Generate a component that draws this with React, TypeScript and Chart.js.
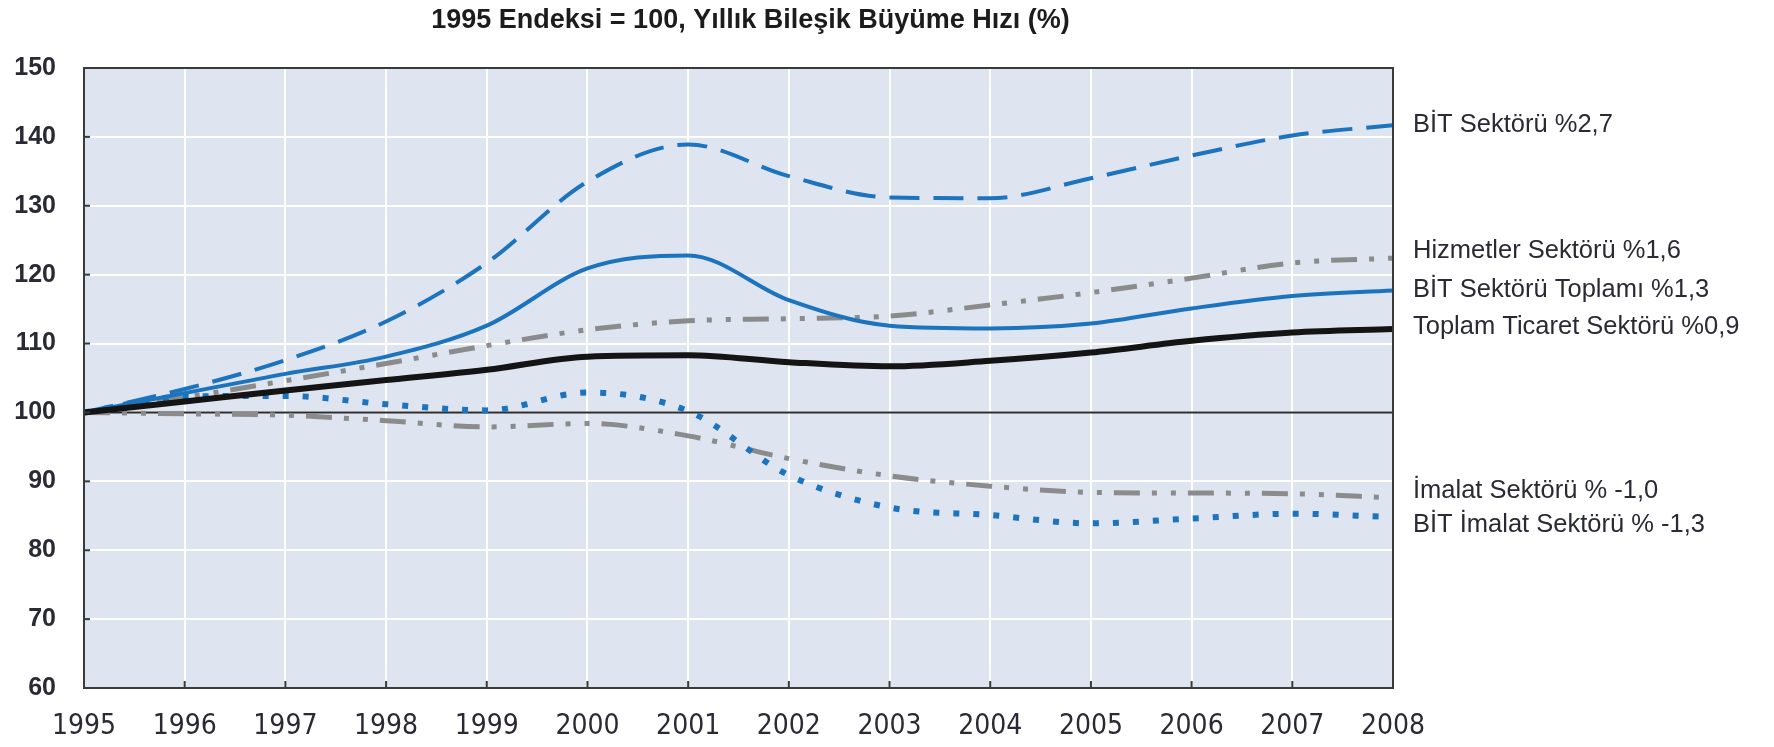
import React, { useEffect, useRef } from "react";
import { Chart, registerables } from "chart.js";

Chart.register(...registerables);

const years = ["1995", "1996", "1997", "1998", "1999", "2000", "2001", "2002", "2003", "2004", "2005", "2006", "2007", "2008"];

const bitSektoru = [100, 103.4, 107.6, 113.2, 121.7, 133.5, 138.9, 134.3, 131.2, 131.1, 134.0, 137.3, 140.2, 141.7];
const hizmetler = [100, 102.2, 104.6, 107.1, 109.7, 112.0, 113.3, 113.6, 114.0, 115.6, 117.4, 119.5, 121.7, 122.4];
const bitToplami = [100, 102.8, 105.6, 108.1, 112.6, 120.9, 122.8, 116.3, 112.6, 112.2, 112.9, 115.1, 116.9, 117.7];
const toplamTicaret = [100, 101.6, 103.2, 104.7, 106.2, 108.1, 108.3, 107.3, 106.7, 107.5, 108.7, 110.4, 111.6, 112.1];
const imalat = [100, 99.8, 99.6, 98.8, 97.9, 98.4, 96.6, 93.3, 90.8, 89.3, 88.4, 88.3, 88.2, 87.6];
const bitImalat = [100, 102.3, 102.4, 101.2, 100.3, 102.9, 100.2, 90.9, 86.2, 85.1, 83.9, 84.6, 85.3, 84.8];

const seriesLabels = [
  "BİT Sektörü %2,7",
  "Hizmetler Sektörü %1,6",
  "BİT Sektörü Toplamı %1,3",
  "Toplam Ticaret Sektörü %0,9",
  "İmalat Sektörü % -1,0",
  "BİT İmalat Sektörü % -1,3",
];
const labelAnchors = [141.7, 123.4, 117.8, 112.4, 88.6, 83.6];

const yTicks = [60, 70, 80, 90, 100, 110, 120, 130, 140, 150];
const titleText = "1995 Endeksi = 100, Yıllık Bileşik Büyüme Hızı (%)";

const BLUE = "#1b74bd";
const GRAY = "#8b8b8b";
const BLACK = "#141414";
const TEXT = "#2a2a35";
const NARROW = "'Liberation Sans Narrow', 'DejaVu Sans Condensed', 'Liberation Sans', sans-serif";
const SANS = "'Liberation Sans', Arial, sans-serif";

export default function App() {
  const ref = useRef<HTMLCanvasElement | null>(null);

  useEffect(() => {
    document.body.style.margin = "0";
    const canvas = ref.current;
    if (!canvas) return;

    const decor = {
      id: "decor",
      beforeDatasetsDraw(chart: any) {
        const { ctx, chartArea } = chart;
        const ys = chart.scales.y;
        ctx.save();
        const y100 = ys.getPixelForValue(100);
        ctx.strokeStyle = "#2d2d2d";
        ctx.lineWidth = 2;
        ctx.beginPath();
        ctx.moveTo(chartArea.left, y100);
        ctx.lineTo(chartArea.right, y100);
        ctx.stroke();
        ctx.restore();
      },
      beforeDraw(chart: any) {
        const { ctx, chartArea } = chart;
        ctx.save();
        ctx.fillStyle = "#dfe4f1";
        ctx.fillRect(chartArea.left, chartArea.top, chartArea.right - chartArea.left, chartArea.bottom - chartArea.top);
        ctx.restore();
      },
      afterDraw(chart: any) {
        const { ctx, chartArea } = chart;
        const ys = chart.scales.y;
        const xs = chart.scales.x;
        ctx.save();
        ctx.strokeStyle = "#3a3a3a";
        ctx.lineWidth = 2;
        ctx.strokeRect(chartArea.left, chartArea.top, chartArea.right - chartArea.left, chartArea.bottom - chartArea.top);
        yTicks.forEach((v) => {
          const y = ys.getPixelForValue(v);
          ctx.beginPath();
          ctx.moveTo(chartArea.left, y);
          ctx.lineTo(chartArea.left + 6, y);
          ctx.stroke();
        });
        years.forEach((_, i) => {
          const x = xs.getPixelForValue(i);
          ctx.beginPath();
          ctx.moveTo(x, chartArea.bottom);
          ctx.lineTo(x, chartArea.bottom - 7);
          ctx.stroke();
        });
        ctx.fillStyle = "#1c1c1c";
        ctx.font = `bold 27px ${SANS}`;
        ctx.textAlign = "center";
        ctx.textBaseline = "middle";
        ctx.fillText(titleText, (chartArea.left + chartArea.right) / 2 + 12, 21);
        ctx.fillStyle = TEXT;
        ctx.font = `25.5px ${SANS}`;
        ctx.textAlign = "left";
        seriesLabels.forEach((t, i) => {
          ctx.fillText(t, chartArea.right + 20, ys.getPixelForValue(labelAnchors[i]));
        });
        ctx.restore();
      },
    };

    const common = {
      pointRadius: 0,
      fill: false,
      cubicInterpolationMode: "monotone" as const,
      borderCapStyle: "butt" as const,
    };

    const chart = new Chart(canvas, {
      type: "line",
      data: {
        labels: years,
        datasets: [
          { ...common, label: seriesLabels[3], data: toplamTicaret, borderColor: BLACK, borderWidth: 6, order: 0 },
          { ...common, label: seriesLabels[2], data: bitToplami, borderColor: BLUE, borderWidth: 4, order: 1 },
          { ...common, label: seriesLabels[0], data: bitSektoru, borderColor: BLUE, borderWidth: 4, borderDash: [30, 14], order: 2 },
          { ...common, label: seriesLabels[5], data: bitImalat, borderColor: BLUE, borderWidth: 6, borderDash: [6, 14], order: 3 },
          { ...common, label: seriesLabels[1], data: hizmetler, borderColor: GRAY, borderWidth: 5, borderDash: [26, 12, 5, 14, 5, 12], order: 4 },
          { ...common, label: seriesLabels[4], data: imalat, borderColor: GRAY, borderWidth: 5, borderDash: [26, 12, 5, 14, 5, 12], order: 5 },
        ],
      },
      options: {
        responsive: false,
        animation: false,
        devicePixelRatio: 1,
        layout: { padding: { top: 68, right: 381, left: 0, bottom: 0 } },
        plugins: { legend: { display: false }, tooltip: { enabled: false }, title: { display: false } },
        scales: {
          x: {
            type: "category",
            offset: false,
            grid: { color: "#ffffff", lineWidth: 2, drawTicks: false },
            border: { display: false },
            ticks: { color: TEXT, font: { family: NARROW, size: 28 }, padding: 22, maxRotation: 0, autoSkip: false },
            afterFit(scale: any) {
              scale.height = 59;
            },
          },
          y: {
            min: 60,
            max: 150,
            grid: { color: "#ffffff", lineWidth: 2, drawTicks: false },
            border: { display: false },
            ticks: { stepSize: 10, color: TEXT, font: { family: SANS, size: 25, weight: "bold" }, padding: 28 },
            afterFit(scale: any) {
              scale.width = 84;
            },
          },
        },
      },
      plugins: [decor],
    });

    return () => chart.destroy();
  }, []);

  return (
    <div style={{ position: "fixed", left: 0, top: 0, width: 1774, height: 747, background: "#ffffff" }}>
      <canvas ref={ref} width={1774} height={747} style={{ display: "block" }} />
    </div>
  );
}
